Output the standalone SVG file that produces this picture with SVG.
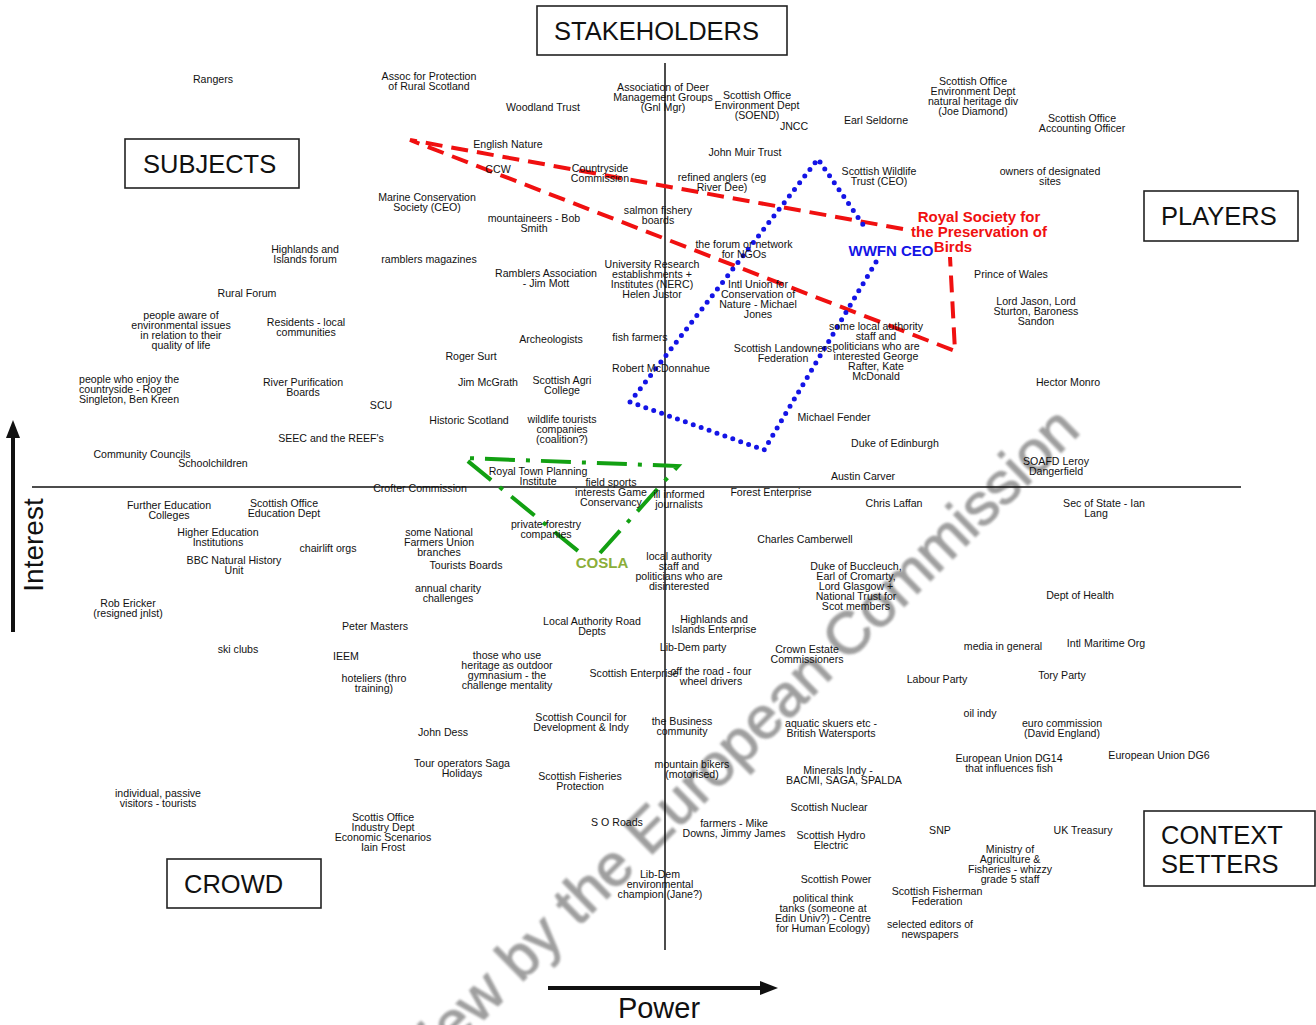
<svg xmlns="http://www.w3.org/2000/svg" width="1316" height="1025" viewBox="0 0 1316 1025">
<defs>
<filter id="soft" x="-5%" y="-5%" width="110%" height="110%"><feGaussianBlur stdDeviation="0.9"/></filter>
</defs>
<style>
.t{font-family:"Liberation Sans",Arial,sans-serif;font-size:10.6px;text-anchor:middle;fill:#111}
.l{text-anchor:start}
.big{font-family:"Liberation Sans",Arial,sans-serif;font-size:25.5px;fill:#111}
.box{fill:#fff;stroke:#222;stroke-width:1.6}
.axis{stroke:#111;stroke-width:1.5;fill:none}
.red{fill:none;stroke:#f01010;stroke-width:4;stroke-dasharray:17 9}
.blue{fill:none;stroke:#1414e6;stroke-width:5;stroke-linecap:round;stroke-dasharray:0 8.4}
.green{fill:none;stroke:#12a012;stroke-width:4;stroke-dasharray:30 11 4 11}
.bold{font-family:"Liberation Sans",Arial,sans-serif;font-weight:bold;font-size:15px;text-anchor:middle}
.wm{font-family:"Liberation Sans",Arial,sans-serif;font-size:60px;fill:#8f8f8f;stroke:#8f8f8f;stroke-width:1.2;opacity:0.85}
</style>
<rect width="1316" height="1025" fill="#fff"/>
<text class="wm" filter="url(#soft)" text-anchor="end" transform="translate(1082,432) rotate(-44.5)">Preview by the European Commission</text>
<g id="connectors">
<line class="axis" x1="665" y1="63" x2="665" y2="950"/>
<line class="axis" x1="32" y1="487" x2="1241" y2="487"/>
<path class="red" d="M903,229 L410,140 L955,351 L950,257"/>
<path class="blue" d="M876,262 L764,450 L630,402 L818,159 L866,229"/>
<path class="green" d="M600,553 L678,466 L464,458 L583,555"/>
<line x1="13" y1="632" x2="13" y2="436" stroke="#111" stroke-width="4"/>
<polygon points="13,420 6,438 20,438" fill="#111"/>
<line x1="548" y1="988" x2="762" y2="988" stroke="#111" stroke-width="4"/>
<polygon points="778,988 760,981 760,995" fill="#111"/>
</g>
<g id="label-stakeholders"><rect class="box" x="537" y="6" width="250" height="49"/><text class="big" x="554" y="40">STAKEHOLDERS</text></g>
<g id="label-subjects"><rect class="box" x="125" y="139" width="174" height="49"/><text class="big" x="143" y="173">SUBJECTS</text></g>
<g id="label-players"><rect class="box" x="1144" y="191" width="154" height="50"/><text class="big" x="1161" y="225">PLAYERS</text></g>
<g id="label-crowd"><rect class="box" x="167" y="859" width="154" height="49"/><text class="big" x="184" y="893">CROWD</text></g>
<g id="label-context"><rect class="box" x="1144" y="811" width="171" height="75"/><text class="big" x="1161" y="844">CONTEXT<tspan x="1161" dy="29">SETTERS</tspan></text></g>
<g id="axis-interest"><text class="big" style="font-size:28px" text-anchor="middle" transform="translate(43,545) rotate(-90)">Interest</text></g>
<g id="axis-power"><text class="big" style="font-size:29px" text-anchor="middle" x="659" y="1018">Power</text></g>
<g id="n-rspb"><text class="bold" fill="#f01010" x="979" y="222">Royal Society for<tspan x="979" dy="15">the Preservation of</tspan><tspan x="953" dy="15">Birds</tspan></text></g>
<g id="n-wwfn"><text class="bold" fill="#1414e6" x="891" y="256">WWFN CEO</text></g>
<g id="n-cosla"><text class="bold" fill="#8aae3a" x="602" y="568">COSLA</text></g>
<g id="n1"><text class="t" x="213" y="83">Rangers</text></g>
<g id="n2"><text class="t" x="429" y="80">Assoc for Protection<tspan x="429" dy="10">of Rural Scotland</tspan></text></g>
<g id="n3"><text class="t" x="663" y="91">Association of Deer<tspan x="663" dy="10">Management Groups</tspan><tspan x="663" dy="10">(Gnl Mgr)</tspan></text></g>
<g id="n4"><text class="t" x="757" y="99">Scottish Office<tspan x="757" dy="10">Environment Dept</tspan><tspan x="757" dy="10">(SOEND)</tspan></text></g>
<g id="n5"><text class="t" x="543" y="111">Woodland Trust</text></g>
<g id="n6"><text class="t" x="973" y="85">Scottish Office<tspan x="973" dy="10">Environment Dept</tspan><tspan x="973" dy="10">natural heritage div</tspan><tspan x="973" dy="10">(Joe Diamond)</tspan></text></g>
<g id="n7"><text class="t" x="1082" y="122">Scottish Office<tspan x="1082" dy="10">Accounting Officer</tspan></text></g>
<g id="n8"><text class="t" x="794" y="130">JNCC</text></g>
<g id="n9"><text class="t" x="876" y="124">Earl Seldorne</text></g>
<g id="n10"><text class="t" x="508" y="148">English Nature</text></g>
<g id="n11"><text class="t" x="745" y="156">John Muir Trust</text></g>
<g id="n12"><text class="t" x="498" y="173">CCW</text></g>
<g id="n13"><text class="t" x="600" y="172">Countryside<tspan x="600" dy="10">Commission</tspan></text></g>
<g id="n14"><text class="t" x="722" y="181">refined anglers (eg<tspan x="722" dy="10">River Dee)</tspan></text></g>
<g id="n15"><text class="t" x="879" y="175">Scottish Wildlife<tspan x="879" dy="10">Trust (CEO)</tspan></text></g>
<g id="n16"><text class="t" x="1050" y="175">owners of designated<tspan x="1050" dy="10">sites</tspan></text></g>
<g id="n17"><text class="t" x="427" y="201">Marine Conservation<tspan x="427" dy="10">Society (CEO)</tspan></text></g>
<g id="n18"><text class="t" x="658" y="214">salmon fishery<tspan x="658" dy="10">boards</tspan></text></g>
<g id="n19"><text class="t" x="534" y="222">mountaineers - Bob<tspan x="534" dy="10">Smith</tspan></text></g>
<g id="n20"><text class="t" x="744" y="248">the forum or network<tspan x="744" dy="10">for NGOs</tspan></text></g>
<g id="n21"><text class="t" x="305" y="253">Highlands and<tspan x="305" dy="10">Islands forum</tspan></text></g>
<g id="n22"><text class="t" x="429" y="263">ramblers magazines</text></g>
<g id="n23"><text class="t" x="546" y="277">Ramblers Association<tspan x="546" dy="10">- Jim Mott</tspan></text></g>
<g id="n24"><text class="t" x="652" y="268">University Research<tspan x="652" dy="10">establishments +</tspan><tspan x="652" dy="10">Institutes (NERC)</tspan><tspan x="652" dy="10">Helen Justor</tspan></text></g>
<g id="n25"><text class="t" x="758" y="288">Intl Union for<tspan x="758" dy="10">Conservation of</tspan><tspan x="758" dy="10">Nature - Michael</tspan><tspan x="758" dy="10">Jones</tspan></text></g>
<g id="n26"><text class="t" x="1011" y="278">Prince of Wales</text></g>
<g id="n27"><text class="t" x="247" y="297">Rural Forum</text></g>
<g id="n28"><text class="t" x="1036" y="305">Lord Jason, Lord<tspan x="1036" dy="10">Sturton, Baroness</tspan><tspan x="1036" dy="10">Sandon</tspan></text></g>
<g id="n29"><text class="t" x="181" y="319">people aware of<tspan x="181" dy="10">environmental issues</tspan><tspan x="181" dy="10">in relation to their</tspan><tspan x="181" dy="10">quality of life</tspan></text></g>
<g id="n30"><text class="t" x="306" y="326">Residents - local<tspan x="306" dy="10">communities</tspan></text></g>
<g id="n31"><text class="t" x="876" y="330">some local authority<tspan x="876" dy="10">staff and</tspan><tspan x="876" dy="10">politicians who are</tspan><tspan x="876" dy="10">interested George</tspan><tspan x="876" dy="10">Rafter, Kate</tspan><tspan x="876" dy="10">McDonald</tspan></text></g>
<g id="n32"><text class="t" x="551" y="343">Archeologists</text></g>
<g id="n33"><text class="t" x="640" y="341">fish farmers</text></g>
<g id="n34"><text class="t" x="783" y="352">Scottish Landowners<tspan x="783" dy="10">Federation</tspan></text></g>
<g id="n35"><text class="t" x="471" y="360">Roger Surt</text></g>
<g id="n36"><text class="t" x="661" y="372">Robert McDonnahue</text></g>
<g id="n37"><text class="t l" x="79" y="383">people who enjoy the<tspan x="79" dy="10">countryside - Roger</tspan><tspan x="79" dy="10">Singleton, Ben Kreen</tspan></text></g>
<g id="n38"><text class="t" x="303" y="386">River Purification<tspan x="303" dy="10">Boards</tspan></text></g>
<g id="n39"><text class="t" x="488" y="386">Jim McGrath</text></g>
<g id="n40"><text class="t" x="562" y="384">Scottish Agri<tspan x="562" dy="10">College</tspan></text></g>
<g id="n41"><text class="t" x="1068" y="386">Hector Monro</text></g>
<g id="n42"><text class="t" x="381" y="409">SCU</text></g>
<g id="n43"><text class="t" x="469" y="424">Historic Scotland</text></g>
<g id="n44"><text class="t" x="562" y="423">wildlife tourists<tspan x="562" dy="10">companies</tspan><tspan x="562" dy="10">(coalition?)</tspan></text></g>
<g id="n45"><text class="t" x="834" y="421">Michael Fender</text></g>
<g id="n46"><text class="t" x="331" y="442">SEEC and the REEF's</text></g>
<g id="n47"><text class="t" x="895" y="447">Duke of Edinburgh</text></g>
<g id="n48"><text class="t" x="142" y="458">Community Councils</text></g>
<g id="n49"><text class="t" x="213" y="467">Schoolchildren</text></g>
<g id="n50"><text class="t" x="1056" y="465">SOAFD Leroy<tspan x="1056" dy="10">Dangerfield</tspan></text></g>
<g id="n51"><text class="t" x="538" y="475">Royal Town Planning<tspan x="538" dy="10">Institute</tspan></text></g>
<g id="n52"><text class="t" x="863" y="480">Austin Carver</text></g>
<g id="n53"><text class="t" x="420" y="492">Crofter Commission</text></g>
<g id="n54"><text class="t" x="611" y="486">field sports<tspan x="611" dy="10">interests Game</tspan><tspan x="611" dy="10">Conservancy</tspan></text></g>
<g id="n55"><text class="t" x="679" y="498">ill informed<tspan x="679" dy="10">journalists</tspan></text></g>
<g id="n56"><text class="t" x="771" y="496">Forest Enterprise</text></g>
<g id="n57"><text class="t" x="894" y="507">Chris Laffan</text></g>
<g id="n58"><text class="t" x="1104" y="507">Sec of State - Ian<tspan x="1096" dy="10">Lang</tspan></text></g>
<g id="n59"><text class="t" x="169" y="509">Further Education<tspan x="169" dy="10">Colleges</tspan></text></g>
<g id="n60"><text class="t" x="284" y="507">Scottish Office<tspan x="284" dy="10">Education Dept</tspan></text></g>
<g id="n61"><text class="t" x="546" y="528">private forestry<tspan x="546" dy="10">companies</tspan></text></g>
<g id="n62"><text class="t" x="439" y="536">some National<tspan x="439" dy="10">Farmers Union</tspan><tspan x="439" dy="10">branches</tspan></text></g>
<g id="n63"><text class="t" x="218" y="536">Higher Education<tspan x="218" dy="10">Institutions</tspan></text></g>
<g id="n64"><text class="t" x="805" y="543">Charles Camberwell</text></g>
<g id="n65"><text class="t" x="328" y="552">chairlift orgs</text></g>
<g id="n66"><text class="t" x="679" y="560">local authority<tspan x="679" dy="10">staff and</tspan><tspan x="679" dy="10">politicians who are</tspan><tspan x="679" dy="10">disinterested</tspan></text></g>
<g id="n68"><text class="t" x="234" y="564">BBC Natural History<tspan x="234" dy="10">Unit</tspan></text></g>
<g id="n69"><text class="t" x="466" y="569">Tourists Boards</text></g>
<g id="n70"><text class="t" x="856" y="570">Duke of Buccleuch,<tspan x="856" dy="10">Earl of Cromarty,</tspan><tspan x="856" dy="10">Lord Glasgow +</tspan><tspan x="856" dy="10">National Trust for</tspan><tspan x="856" dy="10">Scot members</tspan></text></g>
<g id="n71"><text class="t" x="448" y="592">annual charity<tspan x="448" dy="10">challenges</tspan></text></g>
<g id="n72"><text class="t" x="1080" y="599">Dept of Health</text></g>
<g id="n73"><text class="t" x="128" y="607">Rob Ericker<tspan x="128" dy="10">(resigned jnlst)</tspan></text></g>
<g id="n74"><text class="t" x="592" y="625">Local Authority Road<tspan x="592" dy="10">Depts</tspan></text></g>
<g id="n75"><text class="t" x="714" y="623">Highlands and<tspan x="714" dy="10">Islands Enterprise</tspan></text></g>
<g id="n76"><text class="t" x="375" y="630">Peter Masters</text></g>
<g id="n77"><text class="t" x="1106" y="647">Intl Maritime Org</text></g>
<g id="n78"><text class="t" x="1003" y="650">media in general</text></g>
<g id="n79"><text class="t" x="693" y="651">Lib-Dem party</text></g>
<g id="n80"><text class="t" x="807" y="653">Crown Estate<tspan x="807" dy="10">Commissioners</tspan></text></g>
<g id="n81"><text class="t" x="238" y="653">ski clubs</text></g>
<g id="n82"><text class="t" x="346" y="660">IEEM</text></g>
<g id="n83"><text class="t" x="507" y="659">those who use<tspan x="507" dy="10">heritage as outdoor</tspan><tspan x="507" dy="10">gymnasium - the</tspan><tspan x="507" dy="10">challenge mentality</tspan></text></g>
<g id="n84"><text class="t" x="634" y="677">Scottish Enterprise</text></g>
<g id="n85"><text class="t" x="711" y="675">off the road - four<tspan x="711" dy="10">wheel drivers</tspan></text></g>
<g id="n86"><text class="t" x="374" y="682">hoteliers (thro<tspan x="374" dy="10">training)</tspan></text></g>
<g id="n87"><text class="t" x="937" y="683">Labour Party</text></g>
<g id="n88"><text class="t" x="1062" y="679">Tory Party</text></g>
<g id="n89"><text class="t" x="980" y="717">oil indy</text></g>
<g id="n90"><text class="t" x="581" y="721">Scottish Council for<tspan x="581" dy="10">Development &amp; Indy</tspan></text></g>
<g id="n91"><text class="t" x="682" y="725">the Business<tspan x="682" dy="10">community</tspan></text></g>
<g id="n92"><text class="t" x="831" y="727">aquatic skuers etc -<tspan x="831" dy="10">British Watersports</tspan></text></g>
<g id="n93"><text class="t" x="1062" y="727">euro commission<tspan x="1062" dy="10">(David England)</tspan></text></g>
<g id="n94"><text class="t" x="443" y="736">John Dess</text></g>
<g id="n95"><text class="t" x="1009" y="762">European Union DG14<tspan x="1009" dy="10">that influences fish</tspan></text></g>
<g id="n96"><text class="t" x="1159" y="759">European Union DG6</text></g>
<g id="n97"><text class="t" x="462" y="767">Tour operators Saga<tspan x="462" dy="10">Holidays</tspan></text></g>
<g id="n98"><text class="t" x="692" y="768">mountain bikers<tspan x="692" dy="10">(motorised)</tspan></text></g>
<g id="n99"><text class="t" x="838" y="774">Minerals Indy -<tspan x="844" dy="10">BACMI, SAGA, SPALDA</tspan></text></g>
<g id="n100"><text class="t" x="580" y="780">Scottish Fisheries<tspan x="580" dy="10">Protection</tspan></text></g>
<g id="n101"><text class="t" x="158" y="797">individual, passive<tspan x="158" dy="10">visitors - tourists</tspan></text></g>
<g id="n102"><text class="t" x="829" y="811">Scottish Nuclear</text></g>
<g id="n103"><text class="t" x="383" y="821">Scottis Office<tspan x="383" dy="10">Industry Dept</tspan><tspan x="383" dy="10">Economic Scenarios</tspan><tspan x="383" dy="10">Iain Frost</tspan></text></g>
<g id="n104"><text class="t" x="617" y="826">S O Roads</text></g>
<g id="n105"><text class="t" x="734" y="827">farmers - Mike<tspan x="734" dy="10">Downs, Jimmy James</tspan></text></g>
<g id="n106"><text class="t" x="940" y="834">SNP</text></g>
<g id="n107"><text class="t" x="1083" y="834">UK Treasury</text></g>
<g id="n108"><text class="t" x="831" y="839">Scottish Hydro<tspan x="831" dy="10">Electric</tspan></text></g>
<g id="n109"><text class="t" x="1010" y="853">Ministry of<tspan x="1010" dy="10">Agriculture &amp;</tspan><tspan x="1010" dy="10">Fisheries - whizzy</tspan><tspan x="1010" dy="10">grade 5 staff</tspan></text></g>
<g id="n110"><text class="t" x="660" y="878">Lib-Dem<tspan x="660" dy="10">environmental</tspan><tspan x="660" dy="10">champion (Jane?)</tspan></text></g>
<g id="n111"><text class="t" x="836" y="883">Scottish Power</text></g>
<g id="n112"><text class="t" x="937" y="895">Scottish Fisherman<tspan x="937" dy="10">Federation</tspan></text></g>
<g id="n113"><text class="t" x="823" y="902">political think<tspan x="823" dy="10">tanks (someone at</tspan><tspan x="823" dy="10">Edin Univ?) - Centre</tspan><tspan x="823" dy="10">for Human Ecology)</tspan></text></g>
<g id="n114"><text class="t" x="930" y="928">selected editors of<tspan x="930" dy="10">newspapers</tspan></text></g>
</svg>
